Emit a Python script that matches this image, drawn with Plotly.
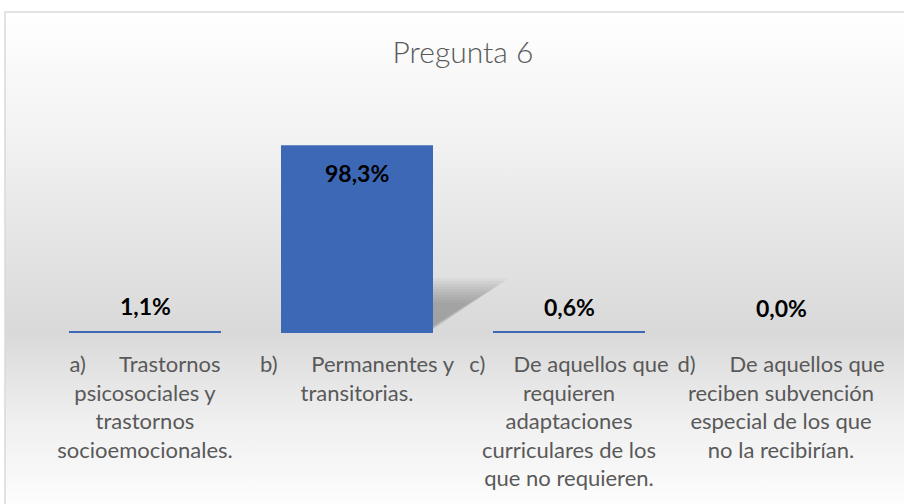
import base64
import plotly.graph_objects as go

# ---- data ----
categories = ["a", "b", "c", "d"]
values = [1.1, 98.3, 0.6, 0.0]
value_labels = ["1,1%", "98,3%", "0,6%", "0,0%"]
tick_labels = [
    "a)\u00a0\u00a0\u00a0\u00a0\u00a0\u00a0Trastornos<br>psicosociales y<br>trastornos<br>socioemocionales.",
    "b)\u00a0\u00a0\u00a0\u00a0\u00a0\u00a0Permanentes y<br>transitorias.",
    "c)\u00a0\u00a0\u00a0\u00a0\u00a0De aquellos que<br>requieren<br>adaptaciones<br>curriculares de los<br>que no requieren.",
    "d)\u00a0\u00a0\u00a0\u00a0\u00a0\u00a0De aquellos que<br>reciben subvención<br>especial de los que<br>no la recibirían.",
]
title_text = "Pregunta 6"
label_inside = [False, True, False, False]

FONT = "Lato"
W, H = 904, 504
ML, MR, MT, MB = 39, 17, 100, 171
PW, PH = W - ML - MR, H - MT - MB
BAR_W = 0.717

def px_to_paper_x(px):
    return (px - ML) / PW

def px_to_paper_y(py):
    return (H - MB - py) / PH

# background gradient (chart area)
svg = """<svg xmlns='http://www.w3.org/2000/svg' width='100' height='100' preserveAspectRatio='none'>
<defs><linearGradient id='g' x1='0' y1='0' x2='0' y2='1'>
<stop offset='0' stop-color='#ffffff'/>
<stop offset='0.23' stop-color='#f3f3f3'/>
<stop offset='0.63' stop-color='#d9d9d9'/>
<stop offset='0.80' stop-color='#efefef'/>
<stop offset='0.97' stop-color='#fdfdfd'/>
<stop offset='1' stop-color='#ffffff'/>
</linearGradient></defs>
<rect width='100' height='100' fill='url(#g)'/></svg>"""
src = "data:image/svg+xml;base64," + base64.b64encode(svg.encode()).decode()

bx0, bx1, by0, by1 = 5, 921, 12, 520

fig = go.Figure()
fig.add_trace(go.Bar(
    x=categories, y=values,
    marker=dict(color="#3C68B6", line=dict(width=0)),
    width=BAR_W,
    hoverinfo="skip",
))

annotations = []
for c, v, lab, ins in zip(categories, values, value_labels, label_inside):
    annotations.append(dict(
        x=c, y=v, xref="x", yref="y", text="<b>" + lab + "</b>",
        showarrow=False,
        yanchor="top" if ins else "bottom",
        yshift=-12 if ins else 9,
        font=dict(family=FONT, size=23, color="#000000"),
    ))

shapes = [dict(
    type="rect", xref="paper", yref="paper",
    x0=px_to_paper_x(bx0), x1=px_to_paper_x(bx1),
    y0=px_to_paper_y(by1), y1=px_to_paper_y(by0),
    line=dict(color="#d9d9d9", width=1.5), fillcolor="rgba(0,0,0,0)",
    layer="below",
)]

# soft perspective shadow behind the tallest bar (decoration)
imax = values.index(max(values))
xr = imax + BAR_W / 2
n = 10
for k in range(n):
    t = k / (n - 1)
    dx = 0.34 * (1.05 - 0.55 * t)
    h = values[imax] * 0.29 * (1.0 - 0.45 * t)
    y0 = 0.3 + 2.0 * t
    shapes.append(dict(
        type="path", xref="x", yref="y", layer="below",
        path=f"M {xr - 0.02},{y0} L {xr - 0.02},{h} L {xr + dx},{h * 1.0} Z",
        fillcolor="rgba(100,100,100,0.06)", line=dict(width=0),
    ))

fig.update_layout(
    width=W, height=H,
    margin=dict(l=ML, r=MR, t=MT, b=MB),
    paper_bgcolor="#ffffff",
    plot_bgcolor="rgba(0,0,0,0)",
    showlegend=False,
    title=dict(text=title_text, x=0.5, xref="paper", xanchor="center",
               y=1 - 52 / H, yref="container", yanchor="middle",
               font=dict(family=FONT, size=30, color="#595959", weight=300)),
    xaxis=dict(
        tickmode="array", tickvals=categories, ticktext=tick_labels,
        tickfont=dict(family=FONT, size=22, color="#595959"),
        showline=False, showgrid=False, zeroline=False, ticks="",
        ticklabelstandoff=16,
        range=[-0.5, 3.5],
    ),
    yaxis=dict(range=[0, 122], visible=False, showgrid=False, zeroline=False),
    annotations=annotations,
    images=[dict(
        source=src, xref="paper", yref="paper",
        x=px_to_paper_x(bx0), y=px_to_paper_y(by0),
        sizex=px_to_paper_x(bx1) - px_to_paper_x(bx0),
        sizey=px_to_paper_y(by0) - px_to_paper_y(by1),
        xanchor="left", yanchor="top", sizing="stretch", layer="below",
    )],
    shapes=shapes,
)

fig.write_html("out.html", config={"displayModeBar": False},
               post_script="document.body.style.margin='0';document.body.style.overflow='hidden';")
